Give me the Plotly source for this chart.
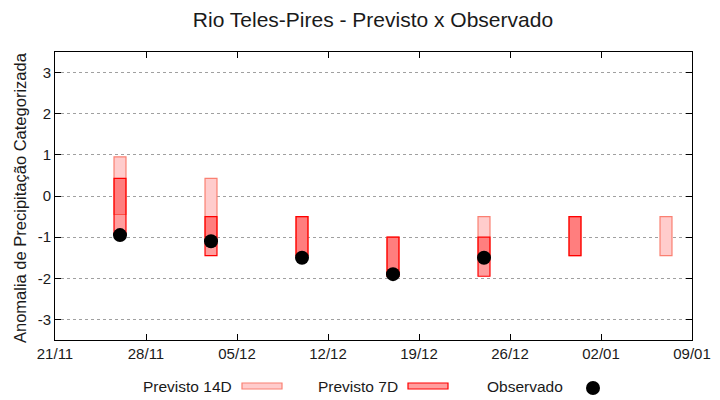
import plotly.graph_objects as go

# ---- data ----
dates = ["2023-11-26", "2023-12-03", "2023-12-10", "2023-12-17", "2023-12-24", "2023-12-31", "2024-01-07"]
prev14_low = [-0.45, -1.0, -1.45, -1.95, -1.5, -1.45, -1.45]
prev14_high = [0.95, 0.43, -0.5, -1.0, -0.5, -0.5, -0.5]
prev7_dates = ["2023-11-26", "2023-12-03", "2023-12-10", "2023-12-17", "2023-12-24", "2023-12-31"]
prev7_low = [-0.95, -1.45, -1.45, -1.95, -1.95, -1.45]
prev7_high = [0.43, -0.5, -0.5, -1.0, -1.0, -0.5]
obs_dates = ["2023-11-26", "2023-12-03", "2023-12-10", "2023-12-17", "2023-12-24"]
obs_vals = [-0.95, -1.1, -1.5, -1.9, -1.5]
xtick_vals = ["2023-11-21", "2023-11-28", "2023-12-05", "2023-12-12", "2023-12-19",
              "2023-12-26", "2024-01-02", "2024-01-09"]
xtick_text = ["21/11", "28/11", "05/12", "12/12", "19/12", "26/12", "02/01", "09/01"]
ytick_vals = [-3, -2, -1, 0, 1, 2, 3]
ytick_text = ["-3", "-2", "-1", "0", "1", "2", "3"]

DAY = 86400000
FONT = "Liberation Sans, Arial, sans-serif"

fig = go.Figure()
fig.add_trace(go.Bar(
    x=dates, y=[h - l for h, l in zip(prev14_high, prev14_low)], base=prev14_low,
    width=0.92 * DAY, marker=dict(color="#ffcccc", line=dict(color="#fa8072", width=1.2)),
    name="Previsto 14D", showlegend=False))
fig.add_trace(go.Bar(
    x=prev7_dates, y=[h - l for h, l in zip(prev7_high, prev7_low)], base=prev7_low,
    width=0.92 * DAY, marker=dict(color="rgba(255,0,0,0.38)", line=dict(color="#ff0000", width=1.2)),
    name="Previsto 7D", showlegend=False))
fig.add_trace(go.Scatter(
    x=obs_dates, y=obs_vals, mode="markers",
    marker=dict(color="black", size=14, line=dict(width=0)),
    name="Observado", showlegend=False))

W, H = 637.0, 288.0
L, T = 55.0, 52.0
def px(x):
    return (x - L) / W
def py(y):
    return (T + H - y) / H

shapes = [
    dict(type="rect", xref="paper", yref="paper", x0=px(242), x1=px(282), y0=py(389), y1=py(383),
         fillcolor="#ffcccc", line=dict(color="#fa8072", width=1.2)),
    dict(type="rect", xref="paper", yref="paper", x0=px(408), x1=px(448), y0=py(389), y1=py(383),
         fillcolor="rgba(255,0,0,0.38)", line=dict(color="#ff0000", width=1.2)),
    dict(type="circle", xref="paper", yref="paper", x0=px(586), x1=px(600), y0=py(395), y1=py(381),
         fillcolor="black", line=dict(color="black", width=0)),
]
annotations = [
    dict(text="Previsto 14D", xref="paper", yref="paper", x=px(234), y=py(386),
         xanchor="right", yanchor="middle", showarrow=False, font=dict(size=15.5, color="#1a1a1a", family=FONT)),
    dict(text="Previsto 7D", xref="paper", yref="paper", x=px(400), y=py(386),
         xanchor="right", yanchor="middle", showarrow=False, font=dict(size=15.5, color="#1a1a1a", family=FONT)),
    dict(text="Observado", xref="paper", yref="paper", x=px(565), y=py(386),
         xanchor="right", yanchor="middle", showarrow=False, font=dict(size=15.5, color="#1a1a1a", family=FONT)),
    dict(text="Anomalia de Precipitação Categorizada", xref="paper", yref="paper",
         x=px(20), y=py(198), xanchor="center", yanchor="middle", textangle=-90,
         showarrow=False, font=dict(size=16.5, color="#1a1a1a", family=FONT)),
]

fig.update_layout(
    width=720, height=400,
    margin=dict(l=55, r=28, t=52, b=60),
    paper_bgcolor="white", plot_bgcolor="white",
    barmode="overlay",
    font=dict(family=FONT, size=15, color="#1a1a1a"),
    title=dict(text="Rio Teles-Pires - Previsto x Observado", x=0.518, xanchor="center",
               y=0.952, yanchor="middle", font=dict(size=21, color="#1a1a1a", family=FONT)),
    shapes=shapes, annotations=annotations,
    showlegend=False,
)
fig.update_xaxes(
    type="date", range=["2023-11-21", "2024-01-09"],
    tickvals=xtick_vals, ticktext=xtick_text,
    ticks="inside", ticklen=6, tickcolor="black", tickwidth=1,
    showline=True, linecolor="black", linewidth=1, mirror="ticks",
    showgrid=False, zeroline=False, automargin=False,
    tickfont=dict(size=15, family=FONT),
)
fig.update_yaxes(
    range=[-3.5, 3.5],
    tickvals=ytick_vals, ticktext=ytick_text,
    ticks="inside", ticklen=6, tickcolor="black", tickwidth=1,
    showline=True, linecolor="black", linewidth=1, mirror="ticks",
    showgrid=True, gridcolor="#a0a0a0", griddash="dot", gridwidth=1,
    zeroline=False, automargin=False,
    tickfont=dict(size=15, family=FONT),
)

fig.write_html("out.html", config={"displayModeBar": False},
               post_script="document.body.style.margin='0';document.body.style.padding='0';")
